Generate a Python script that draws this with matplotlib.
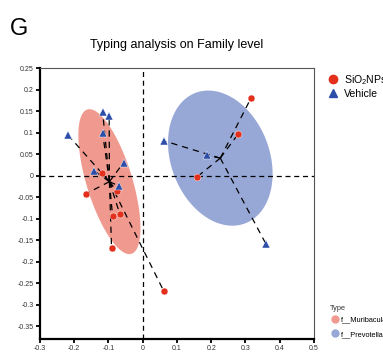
import numpy as np
import matplotlib
matplotlib.use('Agg')
import matplotlib.pyplot as plt
from matplotlib.lines import Line2D

plt.rcParams['font.family'] = ['Liberation Sans', 'DejaVu Sans']

# PCoA-like coordinates
sio2_x = [0.316, 0.279, -0.120, 0.157, -0.165, -0.074, -0.088, -0.067, -0.091, 0.061]
sio2_y = [0.180, 0.097, 0.006, -0.004, -0.042, -0.037, -0.095, -0.089, -0.168, -0.268]
sio2_type = ['P', 'P', 'M', 'P', 'M', 'M', 'M', 'M', 'M', 'M']

veh_x = [-0.218, -0.117, -0.098, -0.117, -0.056, -0.142, -0.070, 0.061, 0.187, 0.359]
veh_y = [0.094, 0.147, 0.138, 0.098, 0.030, 0.011, -0.024, 0.081, 0.047, -0.158]
veh_type = ['M', 'M', 'M', 'M', 'M', 'M', 'M', 'P', 'P', 'P']

type_names = {'M': 'f__Muribaculaceae', 'P': 'f__Prevotellaceae'}
type_colors = {'M': '#f09a8f', 'P': '#97a8d6'}
ellipse_scale = {'M': 1.44, 'P': 1.37}

red = '#e3301c'
blue = '#2d4ea8'

fig = plt.figure(figsize=(3.83, 3.57), dpi=100)
ax = fig.add_axes([0.1044, 0.0504, 0.7154, 0.7591])

all_x = np.array(sio2_x + veh_x)
all_y = np.array(sio2_y + veh_y)
all_t = np.array(sio2_type + veh_type)

# ellipses and spider lines per type
t = np.linspace(0, 2 * np.pi, 200)
for key in ['M', 'P']:
    gx = all_x[all_t == key]
    gy = all_y[all_t == key]
    cx, cy = gx.mean(), gy.mean()
    cov = np.cov(gx, gy)
    L = np.linalg.cholesky(cov)
    circ = np.vstack([np.cos(t), np.sin(t)])
    ell = L @ circ * ellipse_scale[key]
    ax.fill(cx + ell[0], cy + ell[1], color=type_colors[key], lw=0, zorder=1)
    for px, py in zip(gx, gy):
        ax.plot([cx, px], [cy, py], color='black', lw=0.9,
                dashes=(5, 4), zorder=3)

ax.axhline(0, color='black', lw=0.9, dashes=(4, 3), zorder=2)
ax.axvline(0, color='black', lw=0.9, dashes=(4, 3), zorder=2)

ax.plot(sio2_x, sio2_y, 'o', color=red, ms=5, mec='white', mew=0.3, zorder=4)
ax.plot(veh_x, veh_y, '^', color=blue, ms=5.5, mec='white', mew=0.3, zorder=4)

ax.set_xlim(-0.3, 0.5)
ax.set_ylim(-0.38, 0.25)
ax.set_xticks(np.round(np.arange(-0.3, 0.51, 0.1), 2))
ax.set_yticks(np.round(np.arange(-0.35, 0.26, 0.05), 2))
ax.set_xticklabels(['-0.3', '-0.2', '-0.1', '0', '0.1', '0.2', '0.3', '0.4', '0.5'])
ax.set_yticklabels(['-0.35', '-0.3', '-0.25', '-0.2', '-0.15', '-0.1', '-0.05',
                    '0', '0.05', '0.1', '0.15', '0.2', '0.25'])
ax.tick_params(labelsize=5, length=3, width=1.3, pad=1.5, colors='black',
               labelcolor='#333333')
for side in ['left', 'bottom']:
    ax.spines[side].set_linewidth(1.6)
for side in ['top', 'right']:
    ax.spines[side].set_linewidth(0.8)
    ax.spines[side].set_color('#555555')

fig.text(0.026, 0.902, 'G', fontsize=17)
fig.text(0.462, 0.865, 'Typing analysis on Family level', fontsize=9, ha='center')

h1 = [Line2D([], [], marker='o', ls='', color=red, ms=6, label=r'SiO$_\mathregular{2}$NPs'),
      Line2D([], [], marker='^', ls='', color=blue, ms=6, label='Vehicle')]
fig.legend(handles=h1, loc='upper left', bbox_to_anchor=(0.843, 0.811),
           frameon=False, fontsize=7.6, handlelength=0.85, handletextpad=0.65,
           labelspacing=0.2, borderpad=0)

fig.text(0.8616, 0.1330, 'Type', fontsize=5.3, color='#333333')
h2 = [Line2D([], [], marker='o', ls='', color=type_colors[k], ms=5, label=type_names[k])
      for k in ['M', 'P']]
fig.legend(handles=h2, loc='upper left', bbox_to_anchor=(0.8567, 0.1246),
           frameon=False, fontsize=5.3, handlelength=0.8, handletextpad=0.5,
           labelspacing=1.0, borderpad=0)

fig.savefig('out.png', dpi=100)
